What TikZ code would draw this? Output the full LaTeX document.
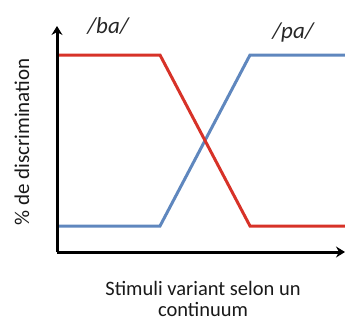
\documentclass[tikz,border=0pt]{standalone}
\usepackage{fontspec}
\setmainfont{Carlito}
\usetikzlibrary{arrows.meta}
\definecolor{cred}{RGB}{215,50,40}
\definecolor{cblue}{RGB}{95,135,190}
\begin{document}
\begin{tikzpicture}[x=1pt,y=-1pt,
  axis/.style={line width=3pt,-{Stealth[length=9pt,width=11pt,inset=3pt]}},
  curve/.style={line width=3pt,line join=miter},
  lbl/.style={font=\fontsize{23}{26}\selectfont\itshape,text=black!85},
  txt/.style={font=\fontsize{20.5}{21}\selectfont,text=black!90,align=center,inner sep=0pt}]
\useasboundingbox (0,0) rectangle (345,322);
\coordinate (O) at (57,252);
\coordinate (ytop) at (57,26);
\coordinate (xend) at (345,252);
\draw[curve,cblue] (57,226) -- (160,226) -- (250,55) -- (345,55);
\draw[curve,cred] (57,55) -- (160,55) -- (250,226) -- (345,226);
\draw[axis] (O) -- (ytop);
\draw[axis] (O) -- (xend);
\node[lbl] (ba) at (108,26) {/ba/};
\node[lbl] (pa) at (293,32) {/pa/};
\node[font=\fontsize{21}{23}\selectfont,text=black!90,rotate=90] (ylab) at (22,142) {\% de discrimination};
\node[txt] (xlab) at (203,298.5) {Stimuli variant selon un\\continuum};
\end{tikzpicture}
\end{document}
